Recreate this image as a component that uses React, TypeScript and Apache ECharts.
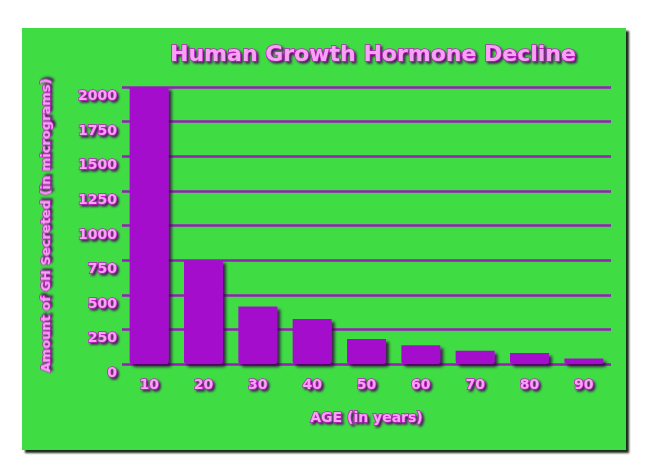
import { useEffect, useRef } from "react";
import * as echarts from "echarts";

// Human growth hormone output by age.
const AGES = ["10", "20", "30", "40", "50", "60", "70", "80", "90"];
const GH_SECRETED = [2000, 750, 415, 325, 180, 135, 95, 80, 40];

const TITLE = "Human Growth Hormone Decline";
const X_NAME = "AGE (in years)";
const Y_NAME = "Amount of GH Secreted (in micrograms)";

const PANEL = "#3fdc44";
const BAR = "#a511cc";
const GRID_LINE = "#9a1cbb";
const FONT = "'DejaVu Sans', Verdana, sans-serif";

// Pink embossed lettering used by every text in the chart.
const emboss = {
  color: "#f6a3f3",
  fontFamily: FONT,
  fontWeight: "bold" as const,
  textBorderColor: "#c41ec9",
  textBorderWidth: 1.5,
  textShadowColor: "rgba(70,0,90,0.85)",
  textShadowBlur: 2,
  textShadowOffsetX: 2,
  textShadowOffsetY: 2,
};

export default function App() {
  const elRef = useRef<HTMLDivElement | null>(null);

  useEffect(() => {
    if (!elRef.current) return;
    const chart = echarts.init(elRef.current, undefined, { renderer: "svg" });

    chart.setOption({
      animation: false,
      backgroundColor: "transparent",
      title: {
        text: TITLE,
        left: 368,
        top: 37,
        textAlign: "center",
        textStyle: { ...emboss, fontSize: 22 },
      },
      grid: { left: 122, right: 39, top: 87, bottom: 111 },
      xAxis: {
        type: "category",
        data: AGES,
        axisLine: { show: false },
        axisTick: { show: false },
        axisLabel: { ...emboss, fontSize: 14, margin: 13 },
        name: X_NAME,
        nameLocation: "middle",
        nameGap: 46,
        nameTextStyle: { ...emboss, fontSize: 14 },
      },
      yAxis: {
        type: "value",
        min: 0,
        max: 2000,
        interval: 250,
        axisLine: { show: false },
        axisTick: { show: false },
        axisLabel: {
          ...emboss,
          fontSize: 14,
          margin: 5,
          verticalAlign: "top",
          padding: [1, 0, 0, 0],
          formatter: (v: number) => String(v),
        },
        splitLine: {
          show: true,
          lineStyle: { color: GRID_LINE, width: 2.5 },
        },
        name: Y_NAME,
        nameLocation: "middle",
        nameGap: 70,
        nameRotate: 90,
        nameTextStyle: { ...emboss, fontSize: 13 },
      },
      series: [
        {
          type: "bar",
          data: GH_SECRETED,
          barWidth: 39,
          itemStyle: {
            color: BAR,
            borderRadius: [0, 0, 3, 3],
            shadowColor: "rgba(45,0,60,0.8)",
            shadowBlur: 3,
            shadowOffsetX: 3,
            shadowOffsetY: 3,
          },
        },
      ],
    });

    return () => chart.dispose();
  }, []);

  return (
    <div style={{ position: "fixed", left: 0, top: 0, width: 650, height: 475, background: "#fff" }}>
      {/* the green board behind the plot, with its dark drop edge */}
      <div
        style={{
          position: "absolute",
          left: 22,
          top: 28,
          width: 604,
          height: 422,
          background: PANEL,
          boxShadow: "3px 3px 2px rgba(0,20,0,0.9)",
        }}
      />
      <div ref={elRef} style={{ position: "absolute", left: 0, top: 0, width: 650, height: 475 }} />
    </div>
  );
}
